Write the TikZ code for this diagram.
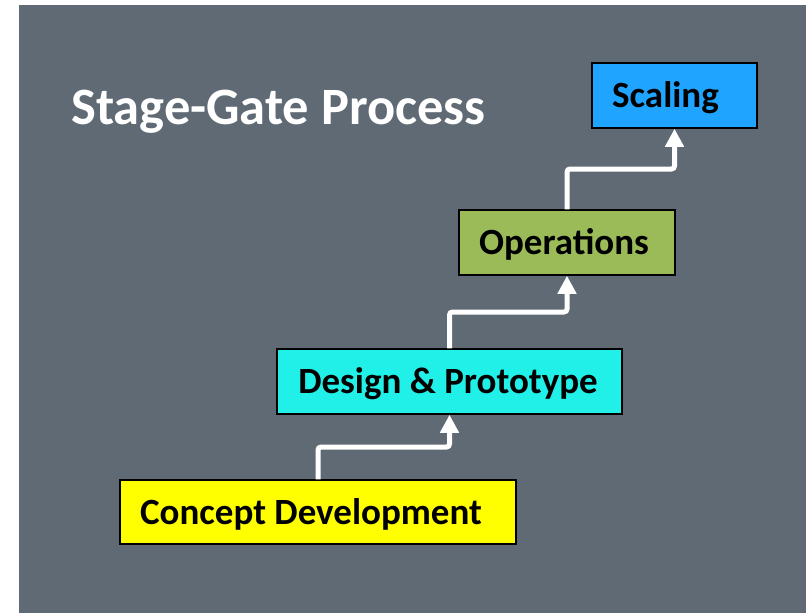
\documentclass[tikz,border=0pt]{standalone}
\usepackage{fontspec}
\setmainfont{Carlito}
\usetikzlibrary{arrows.meta,calc}
\definecolor{bggrey}{HTML}{5F6A74}
\definecolor{scaleblue}{HTML}{1FA5FF}
\definecolor{opsgreen}{HTML}{9BBB59}
\definecolor{designcyan}{HTML}{21F0E8}
\definecolor{conceptyellow}{HTML}{FFFF00}
\tikzset{
  stagebox/.style={draw=black, line width=1.5pt, minimum height=65pt, inner sep=0pt,
    text height=24pt, text depth=0pt,
    font=\fontsize{37}{42}\selectfont\bfseries, text=black},
  gatearrow/.style={draw=white, line width=5pt, rounded corners=3pt,
    -{Triangle[width=18pt,length=18pt]}}
}
\begin{document}
\begin{tikzpicture}[x=1pt,y=-1pt]
\useasboundingbox (0,0) rectangle (806,613);
\fill[bggrey] (19,5) rectangle (806,613);
\node[anchor=base west, inner sep=0pt, text=white, font=\fontsize{52.5}{60}\selectfont\bfseries] (title) at (71,124) {Stage-Gate Process};
\node[stagebox, fill=scaleblue, minimum width=165pt] (scaling) at (674.5,95.5) {Scaling\hspace*{18pt}};
\node[stagebox, fill=opsgreen, minimum width=216pt] (ops) at (567,242.5) {Operations\hspace*{6pt}};
\node[stagebox, fill=designcyan, minimum width=345pt] (design) at (449.5,381.5) {Design \& Prototype\hspace*{3pt}};
\node[stagebox, fill=conceptyellow, minimum width=396pt, minimum height=64pt] (concept) at (318,512) {Concept Development\hspace*{14pt}};
\coordinate (m1) at ($(concept.north)!0.5!(design.south)$);
\coordinate (m2) at ($(design.north)!0.5!(ops.south)$);
\coordinate (m3) at ($(ops.north)!0.5!(scaling.south)$);
\draw[gatearrow] (concept.north) |- (m1) -| (design.south);
\draw[gatearrow] (design.north) |- (m2) -| (ops.south);
\draw[gatearrow] (ops.north) |- (m3) -| (scaling.south);
\end{tikzpicture}
\end{document}
